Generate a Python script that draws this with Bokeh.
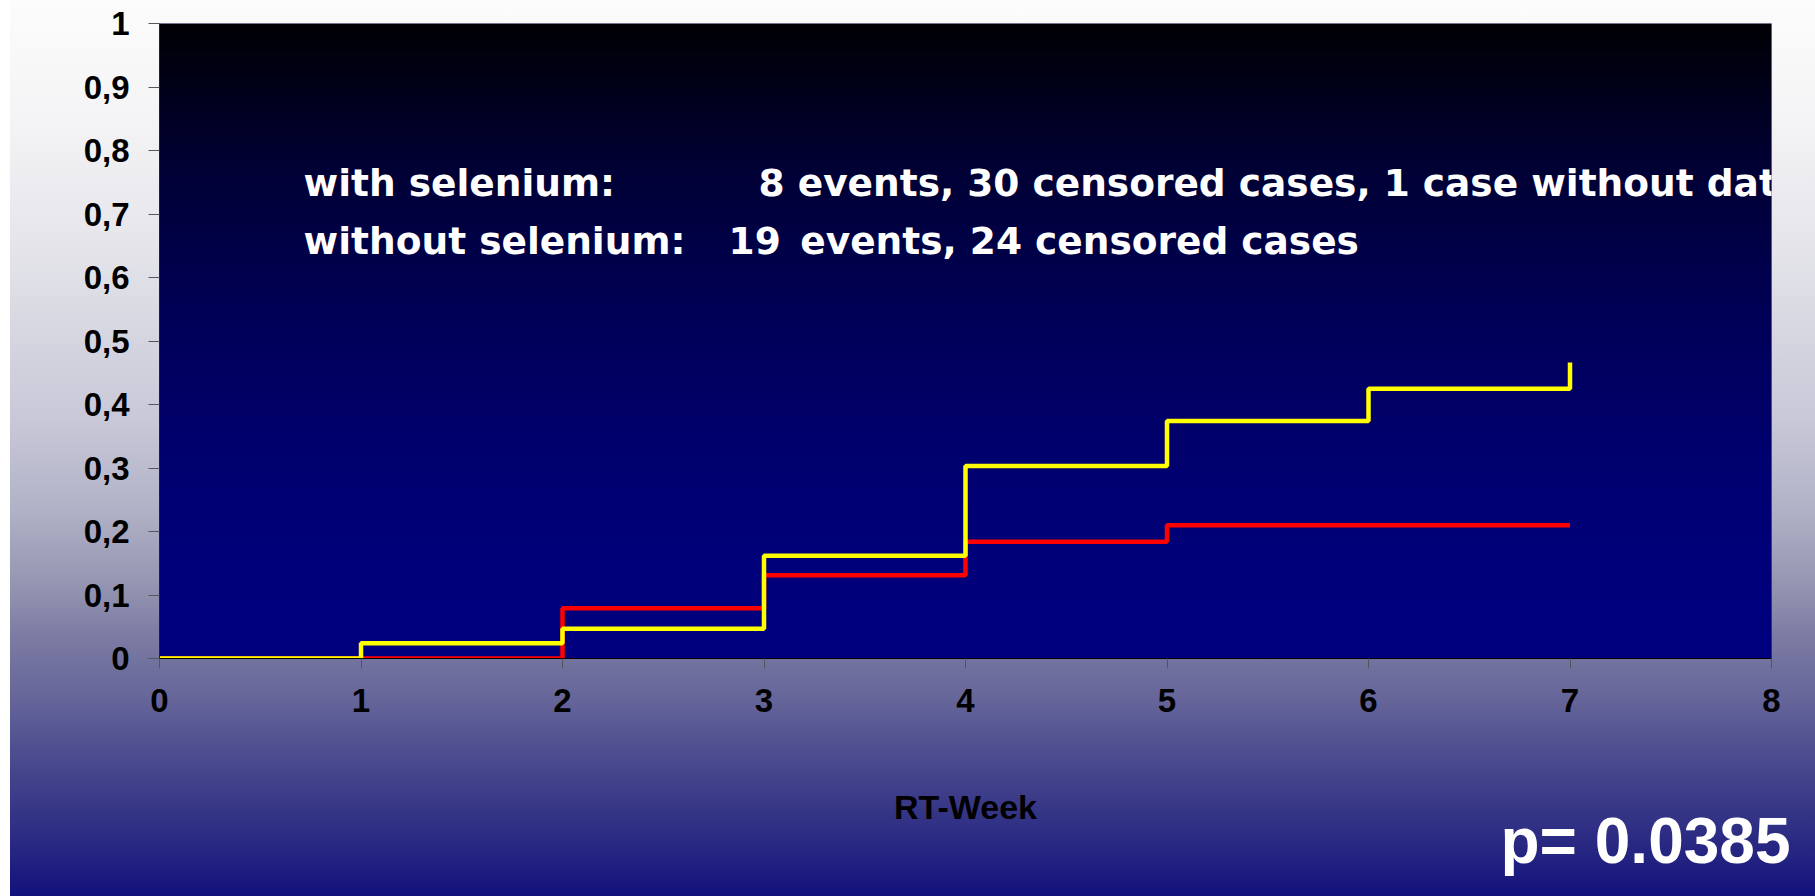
import numpy as np
from bokeh.plotting import figure
from bokeh.models import Range1d, FixedTicker, Label, Span, Title
from bokeh.embed import file_html
from bokeh.resources import INLINE

# ---- data ----
weeks_with = [0, 2, 3, 4, 5, 7]
rate_with = [0.0, 0.079, 0.131, 0.184, 0.210, 0.210]
weeks_without = [0, 1, 2, 3, 4, 5, 6, 7, 7]
rate_without = [0.0, 0.024, 0.047, 0.162, 0.303, 0.374, 0.425, 0.425, 0.466]

x_ticks = [0, 1, 2, 3, 4, 5, 6, 7, 8]
y_ticks = [0, 0.1, 0.2, 0.3, 0.4, 0.5, 0.6, 0.7, 0.8, 0.9, 1]
y_tick_labels = ["0", "0,1", "0,2", "0,3", "0,4", "0,5", "0,6", "0,7", "0,8", "0,9", "1"]

info_with_label = "with selenium:"
info_with_text = "8 events, 30 censored cases, 1 case without data"
info_without_label = "without selenium:"
info_without_count = "19"
info_without_text = "events, 24 censored cases"
x_title = "RT-Week"
p_value_text = "p= 0.0385"

W, H = 1815, 896
LEFT, RIGHT, TOP, BOTTOM = 159, 44, 23, 238

outer_bg = ("linear-gradient(to right, #ffffff 10px, rgba(0,0,0,0) 10px), "
            "linear-gradient(to bottom, #fcfcfc 0px, #f4f4f6 120px, #e4e4ea 250px, "
            "#c8c8d8 420px, #b4b4c9 500px, #9797b3 580px, #7a7aa2 640px, #65659a 700px, "
            "#4e4e90 750px, #3a3a88 800px, #262682 850px, #12127c 896px)")

p = figure(width=W, height=H, output_backend="svg", toolbar_location=None,
           x_range=Range1d(0, 8), y_range=Range1d(0, 1),
           min_border_left=LEFT, min_border_right=RIGHT,
           min_border_top=TOP, min_border_bottom=BOTTOM,
           border_fill_color=None, background_fill_color="#000080",
           outline_line_color=None, styles={"background": outer_bg})

# plot-area gradient (black at top -> navy at bottom)
fh = H - TOP - BOTTOM
rows = np.arange(fh)
py = (H - BOTTOM) - rows - 0.5
blue = np.interp(py, [23, 100, 150, 250, 330, 450, 560, 658],
                 [5, 30, 48, 72, 90, 110, 122, 128]).astype(np.uint8)
img = np.zeros((fh, 1), dtype=np.uint32)
view = img.view(dtype=np.uint8).reshape((fh, 1, 4))
view[:, 0, 0] = 0
view[:, 0, 1] = 0
view[:, 0, 2] = blue
view[:, 0, 3] = 255
p.image_rgba(image=[img], x=0, y=0, dw=8, dh=1)

p.grid.visible = False
p.add_layout(Span(location=1, dimension="width", line_color="#8a8a8a", line_width=1))

# curves
p.step(weeks_with, rate_with, mode="after", line_color="#ff0000", line_width=4.5)
p.step(weeks_without, rate_without, mode="after", line_color="#ffff00", line_width=4.5)

# axes
font = "Liberation Sans"
p.xaxis.ticker = FixedTicker(ticks=x_ticks)
p.yaxis.ticker = FixedTicker(ticks=y_ticks)
p.yaxis.major_label_overrides = {t: l for t, l in zip(y_ticks, y_tick_labels)}
for ax in (p.xaxis[0], p.yaxis[0]):
    ax.major_label_text_font = font
    ax.major_label_text_font_style = "bold"
    ax.major_label_text_font_size = "33px"
    ax.major_label_text_color = "#000000"
    ax.minor_tick_line_color = None
    ax.major_tick_in = 0
    ax.major_tick_line_color = "#555560"
p.xaxis.major_tick_out = 10
p.yaxis.major_tick_out = 11
p.xaxis.major_label_standoff = 20
p.yaxis.major_label_standoff = 19
p.xaxis.axis_line_color = "#000000"
p.yaxis.axis_line_color = "#222222"

p.xaxis.axis_label = x_title
p.xaxis.axis_label_text_font = font
p.xaxis.axis_label_text_font_style = "bold"
p.xaxis.axis_label_text_font_size = "34px"
p.xaxis.axis_label_text_color = "#000000"
p.xaxis.axis_label_standoff = 73

# p-value, placed in the bottom panel under the axis
p.add_layout(Title(text=p_value_text, align="right", offset=-19, standoff=-52,
                   text_font=font, text_font_style="bold", text_font_size="64px",
                   text_color="white"), "below")

# texts inside the plot area
def lab(x, y, text, size, color="white", fname=font, align="left"):
    p.add_layout(Label(x=x, y=y, text=text, text_color=color, text_font=fname,
                       text_font_style="bold", text_font_size=size,
                       text_align=align, text_baseline="alphabetic"))

ann_font = "DejaVu Sans"
lab(0.715, 0.749, info_with_label, "37.5px", fname=ann_font)
lab(2.973, 0.749, info_with_text, "37.5px", fname=ann_font)
lab(0.715, 0.658, info_without_label, "37.5px", fname=ann_font)
lab(2.824, 0.658, info_without_count, "37.5px", fname=ann_font)
lab(3.18, 0.658, info_without_text, "37.5px", fname=ann_font)

open("out.html", "w").write(file_html(p, INLINE))
